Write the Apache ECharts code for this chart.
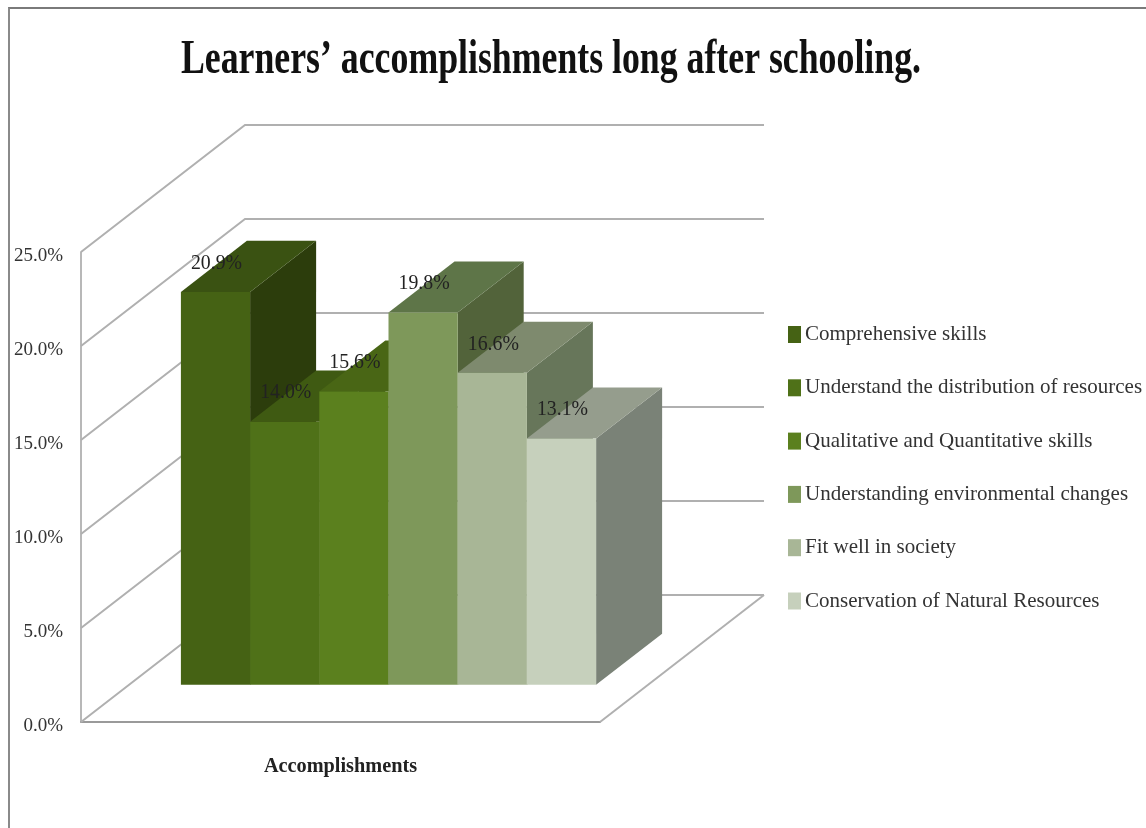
<!DOCTYPE html>
<html>
<head>
<meta charset="utf-8">
<title>Learners' accomplishments long after schooling.</title>
<script src="https://cdn.jsdelivr.net/npm/echarts@6/dist/echarts.min.js"></script>
<style>
html, body { margin: 0; padding: 0; background: #fff; }
#frame { position: absolute; left: 8px; top: 7px; right: 0; bottom: 0; border-left: 2px solid #8a8a8a; border-top: 2px solid #7a7a7a; }
#main { position: absolute; left: 0; top: 0; width: 1146px; height: 828px; }
</style>
</head>
<body>
<div id="frame"></div>
<div id="main"></div>
<script>
var titleText = "Learners\u2019 accomplishments long after schooling.";
var categories = ['Accomplishments'];
var seriesNames = ['Comprehensive skills', 'Understand the distribution of resources', 'Qualitative and Quantitative skills', 'Understanding environmental changes', 'Fit well in society', 'Conservation of Natural Resources'];
var seriesValues = [20.9, 14.0, 15.6, 19.8, 16.6, 13.1];
var tickValues = [0, 5, 10, 15, 20, 25];

var frontColors = ['#456214', '#4f7118', '#5b801e', '#7e985a', '#a8b696', '#c6d0bc'];
var topColors = ['#3a5212', '#3f5a12', '#496615', '#5e7548', '#7e8a6e', '#959d8d'];
var sideColors = ['#2c3d0c', '#32470e', '#3a5110', '#52633a', '#67765a', '#7a8277'];

// depth of the floor in pixels, the bars stand part way into it
var depthX = 164, depthY = -127;
var barStart = 0.2927, barDepth = 0.4024;
var gapShare = 0.1;
var font = '"Liberation Serif", serif';

function wallItem(params, api) {
    var p = api.coord([categories[0], api.value(1)]);
    var w = api.size([1, 0])[0];
    var backY = p[1] + depthY;
    var x0 = p[0] - w / 2;
    return {
        type: 'polyline',
        shape: { points: [[x0, p[1]], [x0 + depthX, backY], [x0 + w + depthX, backY]] },
        style: { fill: null, stroke: '#b0b0b0', lineWidth: 2 }
    };
}

// floor edge on the right, from the end of the x axis to the back wall
function floorItem(params, api) {
    var p = api.coord([categories[0], 0]);
    var w = api.size([1, 0])[0];
    var x1 = p[0] + w / 2;
    return {
        type: 'line',
        shape: { x1: x1, y1: p[1], x2: x1 + depthX, y2: p[1] + depthY },
        style: { stroke: '#b0b0b0', lineWidth: 2 }
    };
}

function barItem(idx) {
    return function (params, api) {
        var v = api.value(1);
        var top = api.coord([categories[0], v]);
        var base = api.coord([categories[0], 0]);
        var band = api.size([1, 0])[0];
        var bw = band * (1 - 2 * gapShare) / seriesNames.length;
        var x = base[0] - band / 2 + band * gapShare + idx * bw + depthX * barStart;
        var yTop = top[1] + depthY * barStart;
        var yBase = base[1] + depthY * barStart;
        var dx = depthX * barDepth, dy = depthY * barDepth;
        var z = 10 + idx;
        return {
            type: 'group',
            children: [
                { type: 'polygon', z2: z, shape: { points: [[x + bw, yTop], [x + bw + dx, yTop + dy], [x + bw + dx, yBase + dy], [x + bw, yBase]] }, style: { fill: sideColors[idx] } },
                { type: 'polygon', z2: z, shape: { points: [[x, yTop], [x + dx, yTop + dy], [x + bw + dx, yTop + dy], [x + bw, yTop]] }, style: { fill: topColors[idx] } },
                { type: 'rect', z2: z, shape: { x: x, y: yTop, width: bw, height: yBase - yTop }, style: { fill: frontColors[idx] } },
                { type: 'text', z2: 50, x: x + bw / 2 + 1, y: yTop - 29, scaleX: 0.9, style: { text: v.toFixed(1) + '%', align: 'center', verticalAlign: 'middle', fill: '#222', font: '22px ' + font } }
            ]
        };
    };
}

var series = [{
    name: 'walls',
    type: 'custom',
    silent: true,
    renderItem: wallItem,
    data: tickValues.map(function (t) { return [0, t]; })
}, {
    name: 'floor',
    type: 'custom',
    silent: true,
    renderItem: floorItem,
    data: [[0, 0]]
}];
seriesNames.forEach(function (name, i) {
    series.push({
        name: name,
        type: 'custom',
        renderItem: barItem(i),
        itemStyle: { color: frontColors[i] },
        data: [[0, seriesValues[i]]]
    });
});

var myChart = echarts.init(document.getElementById('main'), null, { renderer: 'canvas' });
var option = {
    animation: false,
    backgroundColor: 'transparent',
    // the title is narrower than any installed font, so it is squeezed
    graphic: [{
        type: 'text',
        x: 181,
        y: 61,
        scaleX: 0.745,
        style: { text: titleText, verticalAlign: 'middle', fill: '#111', font: 'bold 48px ' + font }
    }],
    grid: { left: 81, top: 252, width: 519, height: 470 },
    legend: {
        data: seriesNames,
        orient: 'vertical',
        left: 788,
        top: 324,
        padding: 0,
        icon: 'rect',
        itemWidth: 13,
        itemHeight: 17,
        itemGap: 32.3,
        selectedMode: false,
        textStyle: { fontFamily: font, fontSize: 21, color: '#333', padding: [0, 0, 0, -1] }
    },
    xAxis: {
        type: 'category',
        data: categories,
        axisLine: { lineStyle: { color: '#9a9a9a', width: 2 } },
        axisTick: { show: false },
        axisLabel: { margin: 35, fontFamily: font, fontSize: 20.3, fontWeight: 'bold', color: '#222' }
    },
    yAxis: {
        type: 'value',
        min: 0,
        max: 25,
        interval: 5,
        axisLine: { show: true, lineStyle: { color: '#a0a0a0', width: 1.5 } },
        axisTick: { show: false },
        splitLine: { show: false },
        axisLabel: {
            margin: 18,
            verticalAlign: 'top',
            lineHeight: 8,
            fontFamily: font,
            fontSize: 19,
            color: '#333',
            formatter: function (v) { return v.toFixed(1) + '%'; }
        }
    },
    series: series
};
myChart.setOption(option);
</script>
</body>
</html>
